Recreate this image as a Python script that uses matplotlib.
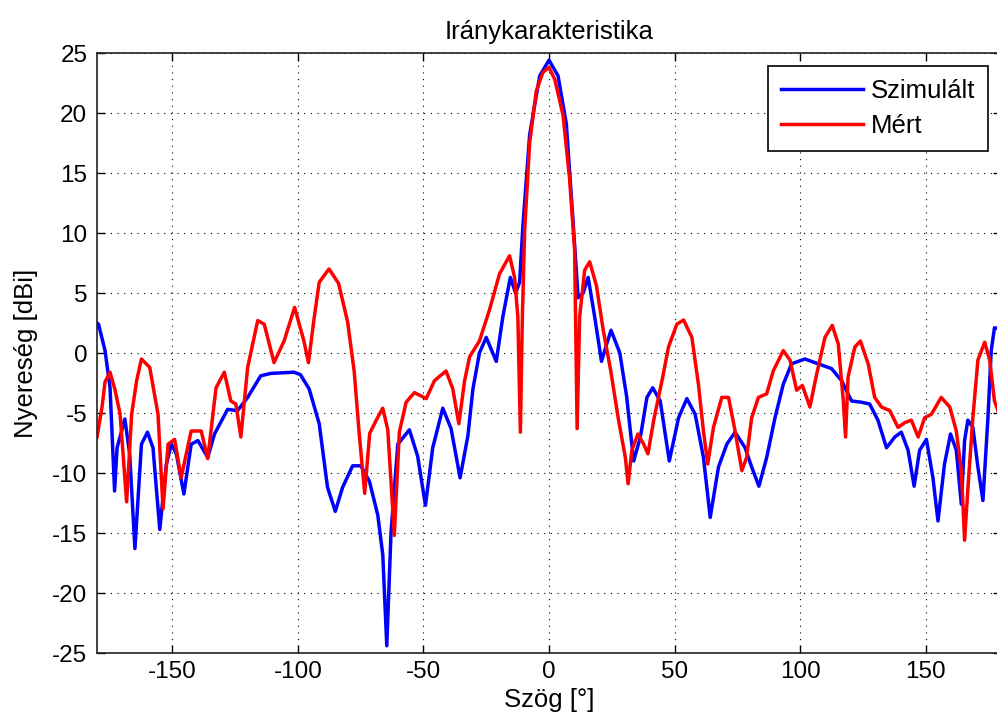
import numpy as np
import matplotlib
matplotlib.use('Agg')
import matplotlib.pyplot as plt

# Szimulált (blue) - angle [deg], gain [dBi]
sim_deg = [-180, -179.4, -176.8, -174.8, -173, -172, -168.9, -167, -164.9, -162.3,
           -159.9, -157.7, -155, -152.4, -150.4, -148.4, -145.4, -142.5, -139.8, -135.9,
           -133.2, -128, -124, -120, -114.8, -110.8, -101.6, -99, -95.5, -91.5,
           -88.2, -85.1, -82.2, -78.2, -74.9, -71.5, -68.2, -66.2, -64.6, -62.9,
           -60.2, -55.6, -52.3, -49.2, -46.3, -42.3, -39, -35.4, -32.3, -30.3,
           -27.7, -25, -21, -18.4, -15.4, -13.3, -11.7, -10.4, -7.7, -3.7,
           0, 3.6, 6.9, 9.6, 11.6, 13.6, 15.6, 18.2, 20.9, 22.9,
           24.7, 28.2, 30.9, 33.7, 36.4, 39, 41.3, 44.3, 47.9, 51.6,
           54.9, 58.2, 61.5, 64.2, 67.5, 70.8, 74.1, 78.1, 80.7, 83.6,
           86.7, 90, 93.3, 96.6, 101.9, 107.2, 112.5, 116.5, 120.5, 124.4,
           127.7, 131, 134.4, 137.7, 140.3, 143, 145.4, 147.6, 150.3, 152.9,
           154.9, 157.5, 159.9, 162.2, 164.2, 165.5, 166.8, 168.8, 170.8, 172.8,
           174.8, 176.1, 177.4, 180]
sim_db = [2.5, 2.4, 0.2, -2.9, -11.5, -7.9, -5.5, -8.4, -16.3, -7.6,
          -6.6, -7.9, -14.7, -9.3, -7.6, -8.4, -11.75, -7.6, -7.3, -8.7,
          -6.75, -4.7, -4.8, -3.7, -1.9, -1.7, -1.6, -1.8, -3.0, -5.9,
          -11.2, -13.2, -11.2, -9.4, -9.4, -10.7, -13.5, -16.8, -24.4, -14.9,
          -7.6, -6.4, -8.6, -12.7, -7.9, -4.6, -6.3, -10.4, -6.9, -3.0,
          0, 1.3, -0.7, 3.0, 6.3, 5.0, 5.9, 10.6, 18.2, 23.1,
          24.4, 23.1, 19.1, 10.9, 4.6, 5.0, 6.3, 3.0, -0.7, 0.7,
          1.9, 0, -3.6, -9.0, -7.0, -3.7, -2.9, -4.0, -9.0, -5.4,
          -3.8, -5.1, -8.7, -13.7, -9.5, -7.6, -6.6, -7.9, -9.5, -11.1,
          -8.7, -5.4, -2.6, -0.9, -0.5, -0.9, -1.3, -2.3, -4.0, -4.1,
          -4.25, -5.6, -7.9, -7.0, -6.6, -8.1, -11.1, -8.1, -7.2, -10.4,
          -14.0, -9.25, -6.75, -8.1, -12.6, -7.3, -5.6, -6.2, -9.5, -12.3,
          -5.4, 0.2, 2.1, 2.0]

# Mért (red)
mert_deg = [-180, -178, -176.8, -174.8, -172.8, -170.8, -168.2, -166.2, -164.2, -162.3,
            -159, -155.7, -153.7, -151.7, -149.1, -146.5, -142.5, -138.5, -135.9, -132.6,
            -129.3, -126.7, -124.7, -122.7, -120, -116, -113.4, -109.5, -105.5, -101.3,
            -97.6, -95.8, -93.6, -91.5, -87.6, -83.8, -80.2, -77.6, -75.5, -73.4,
            -71.4, -68.8, -66.2, -64.2, -61.6, -59.6, -56.9, -53.6, -48.9, -45.6,
            -41, -38.3, -35.9, -33.6, -31.6, -27.7, -23.7, -19.7, -15.7, -13.7,
            -12.4, -11.4, -10.6, -9.7, -7.7, -5.1, -2.4, 0, 2.3, 5.6,
            8.2, 10.2, 11.2, 12.2, 14.2, 16.2, 18.9, 21.6, 24.6, 27.7,
            30.4, 31.5, 33, 35.4, 37.7, 39.4, 41.7, 45, 47.6, 50.9,
            53.6, 56.9, 59.5, 61.5, 63.2, 65.5, 68.8, 71.5, 74.1, 76.8,
            78.7, 80.7, 83.4, 86.7, 89.3, 93.3, 96, 98.6, 100.9, 103.9,
            106.6, 109.9, 112.8, 115.2, 117.2, 118.1, 119.1, 121.8, 124, 127.1,
            129.7, 132.4, 135.7, 139, 141.7, 144.3, 147, 149.6, 152.3, 156.2,
            159.6, 162.2, 164.2, 165.5, 167.1, 168.8, 170.8, 173.5, 175.5, 177.4,
            180]
mert_db = [-7, -4.5, -2.4, -1.6, -3.1, -5.1, -12.4, -5.1, -2.3, -0.5,
           -1.2, -5.1, -13, -7.6, -7.2, -10.4, -6.5, -6.5, -8.8, -2.9,
           -1.6, -4.0, -4.25, -7.0, -1.2, 2.7, 2.4, -0.8, 1.0, 3.8,
           1.0, -0.8, 2.8, 5.9, 7.0, 5.8, 2.6, -1.5, -6.9, -11.7,
           -6.7, -5.6, -4.6, -6.4, -15.2, -6.6, -4.1, -3.3, -3.8, -2.3,
           -1.5, -3.0, -5.9, -2.3, -0.3, 1.0, 3.6, 6.6, 8.1, 6.3,
           3.0, -6.6, 3.0, 10.2, 17.5, 21.8, 23.4, 23.8, 22.8, 19.8,
           14.5, 8.6, -6.3, 3.0, 6.9, 7.6, 5.6, 1.9, -1.5, -5.6,
           -8.7, -10.9, -8.1, -6.75, -7.6, -8.4, -5.6, -2.3, 0.5, 2.4,
           2.75, 1.3, -2.6, -6.5, -9.25, -6.2, -3.7, -3.7, -6.5, -9.8,
           -8.7, -5.4, -3.7, -3.4, -1.5, 0.2, -0.6, -3.1, -2.7, -4.5,
           -1.75, 1.3, 2.3, 0.75, -4.0, -7.0, -2.0, 0.5, 1.0, -0.9,
           -3.7, -4.5, -4.8, -6.2, -5.8, -5.6, -7.0, -5.4, -5.1, -3.7,
           -4.5, -6.5, -9.8, -15.6, -10.4, -5.4, -0.6, 0.9, -0.6, -4.0,
           -5.5]

plt.rcParams['font.family'] = ['Liberation Sans', 'DejaVu Sans']
plt.rcParams['axes.unicode_minus'] = False

fig = plt.figure(figsize=(9.97, 7.26), dpi=100)
ax = fig.add_axes([97 / 997, 1 - 653 / 726, 904 / 997, 600 / 726])

ax.plot(sim_deg, sim_db, color='#0000ff', lw=2.5, label='Szimulált')
ax.plot(mert_deg, mert_db, color='#ff0000', lw=2.5, label='Mért')

ax.set_xlim(-180, 180)
ax.set_ylim(-25, 25)
ax.set_xticks(np.arange(-150, 151, 50))
ax.set_yticks(np.arange(-25, 26, 5))
ax.grid(True, color='black', linestyle=(0, (1, 5)), lw=0.8)
ax.tick_params(direction='in', length=6, width=1, top=True, right=True,
               labelsize=17.5, colors='black')
ax.tick_params(axis='x', pad=6)
ax.tick_params(axis='y', pad=7)
for s in ax.spines.values():
    s.set_linewidth(1.2)
    s.set_color('#222222')

ax.set_title('Iránykarakteristika', fontsize=18.5, pad=10)
ax.set_xlabel('Szög [°]', fontsize=18.5, labelpad=3)
ax.set_ylabel('Nyereség [dBi]', fontsize=18.5, labelpad=10)

leg = ax.legend(loc='upper right', fontsize=18.5, fancybox=False, framealpha=1,
                edgecolor='black', handlelength=3.2, handletextpad=0.3,
                labelspacing=0.45, borderpad=0.5, borderaxespad=0.5)
leg.get_frame().set_linewidth(1.2)

fig.savefig('out.png', dpi=100)
